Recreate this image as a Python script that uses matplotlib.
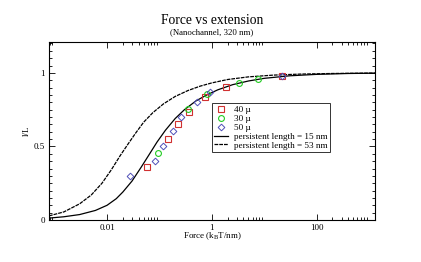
import matplotlib
matplotlib.use("Agg")
import matplotlib.pyplot as plt
from matplotlib.ticker import FixedLocator, NullFormatter

# measured points (force in kT/nm, relative extension l/L)
force_40 = [0.059, 0.145, 0.229, 0.37, 0.74, 1.88, 22.0]
ext_40 = [0.358, 0.553, 0.654, 0.732, 0.833, 0.906, 0.980]

force_30 = [0.093, 0.355, 0.82, 3.36, 7.65]
ext_30 = [0.456, 0.754, 0.857, 0.930, 0.957]

force_50 = [0.027, 0.084, 0.117, 0.18, 0.255, 0.51, 0.915, 22.0]
ext_50 = [0.302, 0.404, 0.504, 0.604, 0.703, 0.799, 0.870, 0.980]

# model curves
force_p15 = [0.00078, 0.0015, 0.003, 0.006, 0.01, 0.015, 0.02, 0.03, 0.045,
             0.065, 0.09, 0.13, 0.2, 0.3, 0.5, 0.8, 1.3, 2.5, 5, 10, 30,
             100, 400, 1300]
ext_p15 = [0.013, 0.022, 0.037, 0.065, 0.10, 0.145, 0.19, 0.265, 0.36,
           0.45, 0.53, 0.61, 0.69, 0.75, 0.81, 0.85, 0.885, 0.92, 0.945,
           0.963, 0.98, 0.99, 0.996, 0.998]

force_p53 = [0.00078, 0.0015, 0.003, 0.005, 0.008, 0.012, 0.018, 0.025,
             0.035, 0.05, 0.075, 0.12, 0.2, 0.35, 0.6, 1.0, 2, 5, 15, 50,
             200, 1300]
ext_p53 = [0.028, 0.055, 0.11, 0.17, 0.25, 0.34, 0.44, 0.515, 0.59, 0.665,
           0.73, 0.79, 0.84, 0.88, 0.91, 0.932, 0.955, 0.973, 0.985, 0.992,
           0.996, 0.999]

x_major = [0.01, 1, 100]
x_major_labels = ["0.01", "1", "100"]
y_major = [0, 0.5, 1]
y_major_labels = ["0", "0.5", "1"]

plt.rcParams["font.family"] = ["Liberation Serif", "DejaVu Serif"]
plt.rcParams["mathtext.fontset"] = "custom"
plt.rcParams["mathtext.rm"] = "Liberation Serif"

fig = plt.figure(figsize=(4.21, 2.62), dpi=100)
ax = fig.add_axes([49 / 421, 1 - 220 / 262, 326 / 421, 178 / 262])

ax.plot(force_p15, ext_p15, color="black", lw=0.9, label="persistent length = 15 nm")
ax.plot(force_p53, ext_p53, color="black", lw=0.9, ls=(0, (3, 0.8)),
        label="persistent length = 53 nm")
ax.plot(force_40, ext_40, ls="none", marker="s", ms=4.2, mfc="none",
        mec="#d03030", mew=0.8, label="40 µ")
ax.plot(force_30, ext_30, ls="none", marker="o", ms=4.2, mfc="none",
        mec="#22cc22", mew=0.8, label="30 µ")
ax.plot(force_50, ext_50, ls="none", marker="D", ms=3.4, mfc="none",
        mec="#5050b8", mew=0.7, label="50 µ")

ax.set_xscale("log")
ax.set_xlim(7.8e-4, 1300)
ax.set_ylim(0, 1.21)

ax.xaxis.set_major_locator(FixedLocator(x_major))
ax.set_xticklabels(x_major_labels)
minor_x = [k * 10.0 ** e for e in (-4, -2, 0, 2) for k in range(2, 10)]
ax.xaxis.set_minor_locator(FixedLocator(minor_x))
ax.xaxis.set_minor_formatter(NullFormatter())

ax.yaxis.set_major_locator(FixedLocator(y_major))
ax.set_yticklabels(y_major_labels)
ax.yaxis.set_minor_locator(FixedLocator([i * 0.05 for i in range(25)]))

ax.tick_params(which="both", direction="in", top=True, right=True,
               labelsize=6.5, width=0.6, pad=3)
ax.tick_params(which="major", length=4.5)
ax.tick_params(which="minor", length=2.2)
for s in ax.spines.values():
    s.set_linewidth(0.8)

ax.set_xlabel("Force (k$_\\mathrm{B}$T/nm)", fontsize=6.5, labelpad=-1)
ax.set_ylabel("l/L", fontsize=6.5, labelpad=2)

fig.text(212 / 421, 1 - 20 / 262, "Force vs extension", ha="center",
         va="center", fontsize=9.8)
fig.text(212 / 421, 1 - 32 / 262, "(Nanochannel, 320 nm)", ha="center",
         va="center", fontsize=6.3)

handles, labels = ax.get_legend_handles_labels()
order = [2, 3, 4, 0, 1]
leg = ax.legend([handles[i] for i in order], [labels[i] for i in order],
                loc="upper left", bbox_to_anchor=(0.5, 0.655), fontsize=6.6,
                frameon=True, fancybox=False, edgecolor="black",
                handlelength=1.45, borderpad=0.25, labelspacing=0.05,
                handletextpad=0.75, borderaxespad=0)
leg.get_frame().set_linewidth(0.7)

fig.savefig("out.png", dpi=100)
